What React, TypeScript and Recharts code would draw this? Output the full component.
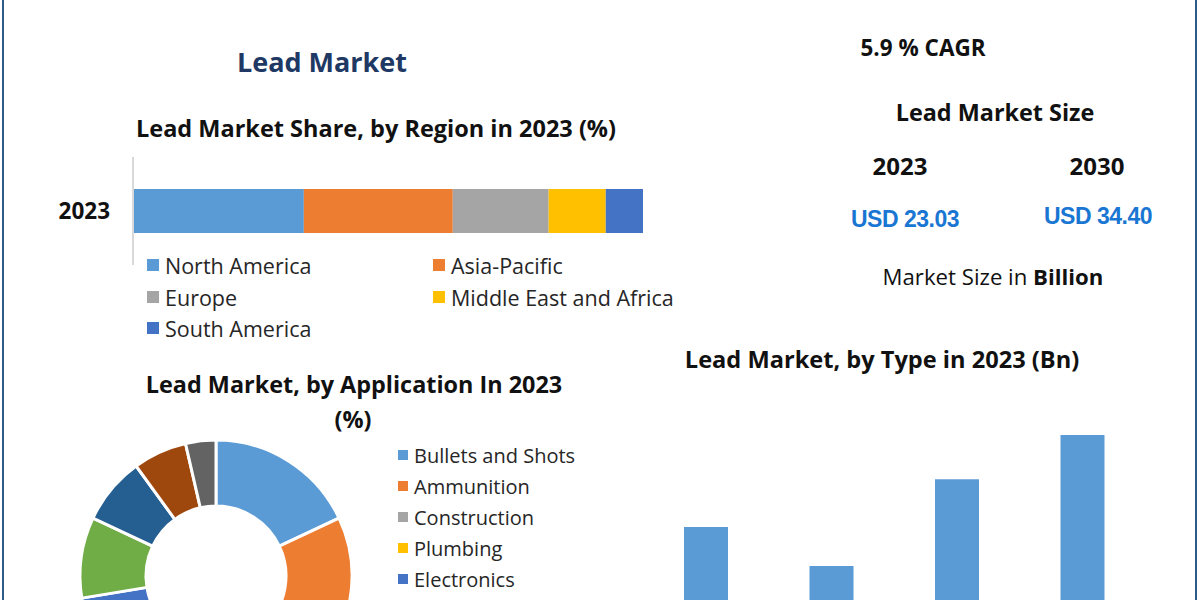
import React from "react";
import { Bar, BarChart, Cell, Pie, PieChart, XAxis, YAxis } from "recharts";

// region share, 2023 (%)
const regions = ["North America", "Asia-Pacific", "Europe", "Middle East and Africa", "South America"];
const regionShare = [33.5, 29.2, 18.8, 11.2, 7.3];
const regionColors = ["#5b9bd5", "#ed7d31", "#a5a5a5", "#ffc000", "#4472c4"];

// application share, 2023 (%)
const applications = [
  "Bullets and Shots",
  "Ammunition",
  "Construction",
  "Plumbing",
  "Electronics",
  "Batteries",
  "Cable Sheathing",
  "Pigments",
  "Others",
];
const applicationShare = [18.0, 20.0, 14.0, 11.0, 9.4, 9.6, 8.0, 6.4, 3.6];
const applicationColors = ["#5b9bd5", "#ed7d31", "#a5a5a5", "#ffc000", "#4472c4", "#70ad47", "#255e91", "#9e480e", "#636363"];

// by type, 2023 (Bn)
const types = ["Primary Lead", "Secondary Lead", "Lead Alloys", "Lead Oxide"];
const typeValues = [4.71, 3.08, 6.7, 8.54];

const FONT = "'Open Sans', Lato, sans-serif";

const regionRow: Record<string, string | number> = { year: "2023" };
regions.forEach((r, i) => (regionRow[r] = regionShare[i]));
const regionData = [regionRow];

const appData = applications.map((name, i) => ({ name, value: applicationShare[i] }));
const typeData = types.map((type, i) => ({ type, value: typeValues[i] }));

function Label({ x, y, size, bold = true, color = "#111", children, family = FONT, spacing = 0 }: any) {
  return (
    <div
      style={{
        position: "absolute",
        left: x - 300,
        top: y - 20,
        width: 600,
        height: 40,
        lineHeight: "40px",
        textAlign: "center",
        fontFamily: family,
        fontSize: size,
        fontWeight: bold ? 700 : 400,
        letterSpacing: spacing,
        color,
        whiteSpace: "nowrap",
      }}
    >
      {children}
    </div>
  );
}

function LegendItem({ x, y, color, text, box = 12, size = 20 }: any) {
  return (
    <div style={{ position: "absolute", left: x, top: y - 15, height: 30, display: "flex", alignItems: "center", whiteSpace: "nowrap" }}>
      <span style={{ width: box, height: box, background: color, display: "inline-block", marginRight: 6 }} />
      <span style={{ fontFamily: FONT, fontSize: size, color: "#262626" }}>{text}</span>
    </div>
  );
}

export default function App() {
  return (
    <div style={{ position: "absolute", left: 0, top: 0, width: 1200, height: 600, overflow: "hidden", background: "#fff" }}>
      {/* side borders */}
      <div style={{ position: "absolute", left: 2, top: 0, width: 2, height: 600, background: "#2f5b8a" }} />
      <div style={{ position: "absolute", left: 1195, top: 0, width: 2, height: 600, background: "#2f5b8a" }} />

      <Label x={322} y={62} size={27} color="#203864">Lead Market</Label>
      <Label x={376} y={128} size={23.5}>Lead Market Share, by Region in 2023 (%)</Label>

      {/* stacked region bar */}
      <div style={{ position: "absolute", left: 0, top: 157 }}>
        <BarChart width={660} height={108} data={regionData} layout="vertical" margin={{ top: 0, right: 17, bottom: 0, left: 0 }}>
          <XAxis type="number" hide domain={[0, 100]} />
          <YAxis
            type="category"
            dataKey="year"
            width={133}
            axisLine={{ stroke: "#d9d9d9", strokeWidth: 2 }}
            tickLine={false}
            tickSize={0}
            tickMargin={23}
            tick={{ fontFamily: FONT, fontSize: 22.5, fontWeight: 700, fill: "#111" }}
          />
          {regions.map((r, i) => (
            <Bar key={r} dataKey={r} stackId="a" fill={regionColors[i]} barSize={44} isAnimationActive={false} />
          ))}
        </BarChart>
      </div>
      {regions.map((r, i) => (
        <LegendItem
          key={r}
          x={i % 2 === 0 ? 147 : 433}
          y={[265, 297, 328][Math.floor(i / 2)]}
          color={regionColors[i]}
          text={r}
          size={21.5}
        />
      ))}

      {/* right summary */}
      <Label x={923} y={48} size={22.5}>5.9 % CAGR</Label>
      <Label x={995} y={112} size={23.4}>Lead Market Size</Label>
      <Label x={900} y={166} size={24}>2023</Label>
      <Label x={1097} y={166} size={24}>2030</Label>
      <Label x={905} y={219} size={23} color="#1976d2" family="'Liberation Sans', Arial, sans-serif" spacing={-0.5}>USD 23.03</Label>
      <Label x={1098} y={216} size={23} color="#1976d2" family="'Liberation Sans', Arial, sans-serif" spacing={-0.5}>USD 34.40</Label>
      <Label x={993} y={277} size={22.2} bold={false}>
        Market Size in <b>Billion</b>
      </Label>

      {/* application donut */}
      <Label x={354} y={384} size={23.4}>Lead Market, by Application In 2023</Label>
      <Label x={353} y={419} size={23.4}>(%)</Label>
      <div style={{ position: "absolute", left: 0, top: 420 }}>
        <PieChart width={420} height={300}>
          <Pie
            data={appData}
            dataKey="value"
            nameKey="name"
            cx={211}
            cy={151}
            innerRadius={70}
            outerRadius={136}
            startAngle={90}
            endAngle={-270}
            stroke="#fff"
            strokeWidth={3}
            isAnimationActive={false}
          >
            {appData.map((d, i) => (
              <Cell key={d.name} fill={applicationColors[i]} />
            ))}
          </Pie>
        </PieChart>
      </div>
      {applications.slice(0, 6).map((a, i) => (
        <LegendItem key={a} x={398} y={455 + i * 31} color={applicationColors[i]} text={a} box={10} />
      ))}

      {/* by type bars */}
      <Label x={882} y={359} size={23.6}>Lead Market, by Type in 2023 (Bn)</Label>
      <div style={{ position: "absolute", left: 643, top: 400 }}>
        <BarChart width={502} height={240} data={typeData} margin={{ top: 0, right: 0, bottom: 0, left: 0 }}>
          <XAxis dataKey="type" hide />
          <YAxis hide domain={[0, 10]} />
          <Bar dataKey="value" fill="#5b9bd5" barSize={44} isAnimationActive={false} />
        </BarChart>
      </div>
    </div>
  );
}
